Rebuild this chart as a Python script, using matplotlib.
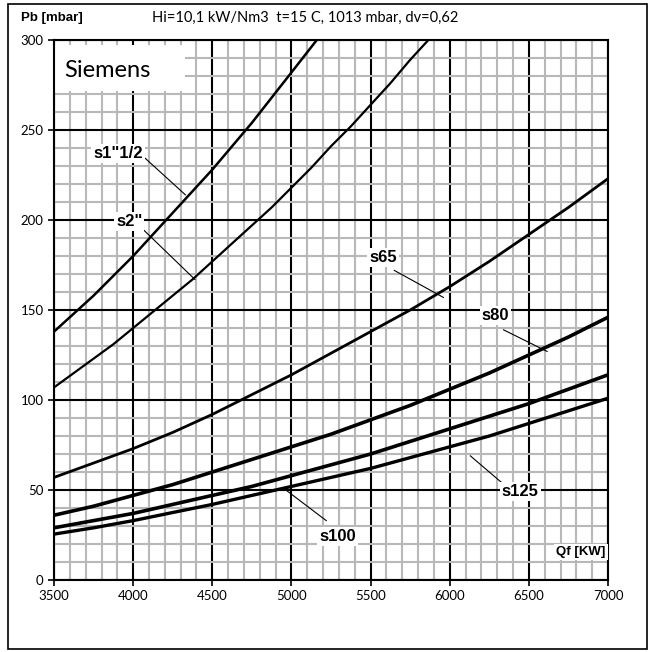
# Siemens gas valve pressure drop chart
import matplotlib
matplotlib.use('Agg')
import matplotlib.pyplot as plt
from matplotlib.patches import Rectangle

# values (Qf in kW, Pb in mbar)
q_s112 = [3500, 3625, 3750, 3875, 4000, 4125, 4250, 4375, 4500, 4625, 4750, 4875, 5000, 5080, 5160]
p_s112 = [138, 148, 158, 169, 180, 192, 204, 216, 228, 241, 254, 268, 282, 291, 300]
q_s2 = [3500, 3625, 3750, 3875, 4000, 4125, 4250, 4375, 4500, 4625, 4750, 4875, 5000,
        5125, 5250, 5375, 5500, 5625, 5750, 5865]
p_s2 = [107, 115, 123, 131, 140, 149, 158, 167, 177, 187, 197, 207, 218,
        229, 241, 252, 264, 276, 289, 300]
q_big = [3500, 3750, 4000, 4250, 4500, 4750, 5000, 5250, 5500, 5750, 6000, 6250, 6500, 6750, 7000]
p_s65 = [57, 65, 73, 82, 92, 103, 114, 126, 138, 150, 163, 177, 192, 207, 223]
p_s80 = [36, 41, 47, 53, 60, 67, 74, 81, 89, 97, 106, 115, 125, 135, 146]
p_s100 = [29, 33, 37, 42, 47, 52, 58, 64, 70, 77, 84, 91, 98, 106, 114]
p_s125 = [25.5, 29, 33, 37.5, 42, 47, 52, 57, 62, 68, 74, 80, 87, 94, 101]

# label text, label position, leader ends
labels = ['s1"1/2', 's2"', 's65', 's80', 's100', 's125']
label_xy = [(3905, 237), (3975, 199), (5580, 179), (6290, 147), (5290, 24), (6445, 49)]
leader_from = [(4030, 238), (4060, 195), (5650, 172), (6340, 139), (5220, 33), (6330, 54)]
leader_to = [(4330, 214), (4390, 167), (5960, 157), (6615, 127), (4965, 50), (6130, 69)]

fnt = ['Lato', 'DejaVu Sans']
bold_fnt = ['Liberation Sans', 'DejaVu Sans']

fig = plt.figure(figsize=(6.5, 6.52), dpi=100)
fig.patches.append(Rectangle((0.013, 0.004), 0.982, 0.99, transform=fig.transFigure,
                             fill=False, edgecolor='black', linewidth=1.2))
ax = fig.add_axes([0.0831, 0.1104, 0.8523, 0.8282])

ax.set_xlim(3500, 7000)
ax.set_ylim(0, 300)
ax.set_xticks(range(3500, 7001, 500))
ax.set_yticks(range(0, 301, 50))
ax.set_xticks(range(3500, 7001, 100), minor=True)
ax.set_yticks(range(0, 301, 10), minor=True)
ax.grid(which='minor', color='#b8b8b8', linewidth=1.5, zorder=0)
ax.grid(which='major', color='black', linewidth=1.5, zorder=1)
ax.tick_params(which='minor', length=0)
ax.tick_params(which='major', direction='out', length=4, width=1.2, labelsize=9.5)
for s in ax.spines.values():
    s.set_linewidth(1.5)
for lab in ax.get_xticklabels() + ax.get_yticklabels():
    lab.set_family(fnt)

ax.plot(q_s112, p_s112, color='black', lw=1.8, zorder=3)
ax.plot(q_s2, p_s2, color='black', lw=1.6, zorder=3)
ax.plot(q_big, p_s65, color='black', lw=2.0, zorder=3)
ax.plot(q_big, p_s80, color='black', lw=2.6, zorder=3)
ax.plot(q_big, p_s100, color='black', lw=2.6, zorder=3)
ax.plot(q_big, p_s125, color='black', lw=2.4, zorder=3)

for t, (lx, ly), a, b in zip(labels, label_xy, leader_from, leader_to):
    ax.plot([a[0], b[0]], [a[1], b[1]], color='black', lw=0.8, zorder=4)
    ax.text(lx, ly, t, ha='center', va='center', fontsize=12, fontweight='bold',
            family=bold_fnt, zorder=5,
            bbox=dict(facecolor='white', edgecolor='none', pad=1.5))

ax.add_patch(Rectangle((3500, 271.5), 830, 25.5, facecolor='white', edgecolor='none', zorder=2))
ax.text(3565, 283, 'Siemens', fontsize=17, ha='left', va='center', family=fnt, zorder=5)

ax.text(6830, 15.5, 'Qf [KW]', fontsize=9.5, fontweight='bold', ha='center', va='center',
        family=bold_fnt, zorder=5,
        bbox=dict(facecolor='white', edgecolor='none', pad=1.5))

fig.text(0.032, 0.972, 'Pb [mbar]', fontsize=9.5, fontweight='bold', va='center', family=bold_fnt)
fig.text(0.234, 0.972, 'Hi=10,1 kW/Nm3  t=15 C, 1013 mbar, dv=0,62', fontsize=10.5,
         va='center', family=fnt)

fig.savefig('out.png', dpi=100)
